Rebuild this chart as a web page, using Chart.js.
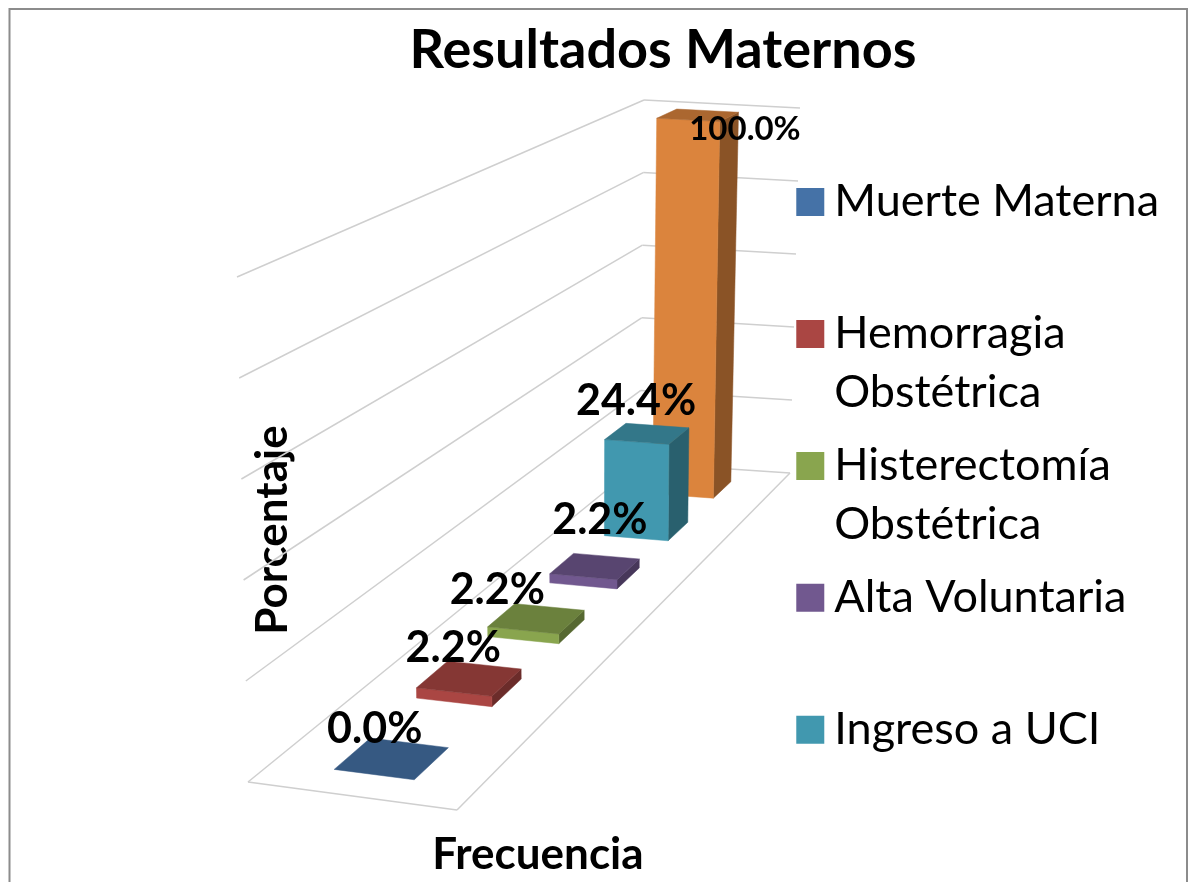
<!DOCTYPE html>
<html>
<head>
<meta charset="utf-8">
<title>Resultados Maternos</title>
<script src="https://cdn.jsdelivr.net/npm/chart.js@4"></script>
<style>
  body { margin: 0; background: #fff; }
  canvas { display: block; }
</style>
</head>
<body>
<canvas id="chart" width="1190" height="882"></canvas>
<script>
// Chart data
const categories = ['Muerte Materna', 'Hemorragia Obstétrica', 'Histerectomía Obstétrica', 'Alta Voluntaria', 'Ingreso a UCI', ''];
const percentages = [0, 2.2, 2.2, 2.2, 24.4, 100];
const barColors = ['#4572A7', '#AA4643', '#89A54E', '#71588F', '#4198AF', '#DB843D'];
const legendLines = [['Muerte Materna', ''], ['Hemorragia', 'Obstétrica'], ['Histerectomía', 'Obstétrica'], ['Alta Voluntaria', ''], ['Ingreso a UCI', '']];
const valueTicks = [0, 20, 40, 60, 80, 100];

// Where the data labels sit, relative to the middle of each bar's top face
const labelOffsets = [[-17, -29], [-16, -30], [-39, -28], [5, -46], [-11, -33], [47, 14]];
const labelSizes = [43, 43, 43, 43, 43, 33];

// The 3D box of the plot on screen: floor and ceiling corners
// (front-left, front-right, back-right, back-left)
const floorCorners = [[248, 782], [457, 810], [790, 473], [640, 463]];
const topCorners = [[237, 277], [454, 292], [800, 108], [644, 100]];
const barLeft = 0.305;
const barRight = 0.695;
const depthShift = 0.004;
const FONT = 'Lato, "Open Sans", sans-serif';

// Homography from the unit square to a quad
function makeHomography(q) {
  const [p0, p1, p2, p3] = q;
  const dx1 = p1[0] - p2[0], dx2 = p3[0] - p2[0], sx = p0[0] - p1[0] + p2[0] - p3[0];
  const dy1 = p1[1] - p2[1], dy2 = p3[1] - p2[1], sy = p0[1] - p1[1] + p2[1] - p3[1];
  const den = dx1 * dy2 - dx2 * dy1;
  const g = (sx * dy2 - dx2 * sy) / den;
  const h = (dx1 * sy - sx * dy1) / den;
  const a = p1[0] - p0[0] + g * p1[0], b = p3[0] - p0[0] + h * p3[0];
  const d = p1[1] - p0[1] + g * p1[1], e = p3[1] - p0[1] + h * p3[1];
  return (u, v) => {
    const w = g * u + h * v + 1;
    return [(a * u + b * v + p0[0]) / w, (d * u + e * v + p0[1]) / w];
  };
}

const floorAt = makeHomography(floorCorners);
const topAt = makeHomography(topCorners);

// u = across the floor, v = depth (0 front, 1 back), t = height (0 to 1)
function project(u, v, t) {
  const f = floorAt(u, v);
  const c = topAt(u, v);
  return [f[0] + (c[0] - f[0]) * t, f[1] + (c[1] - f[1]) * t];
}

// Darken a hex color
function shade(color, k) {
  const r = Math.round(parseInt(color.substring(1, 3), 16) * k);
  const g = Math.round(parseInt(color.substring(3, 5), 16) * k);
  const b = Math.round(parseInt(color.substring(5, 7), 16) * k);
  return `rgb(${r}, ${g}, ${b})`;
}

function fillQuad(ctx, points, color) {
  ctx.beginPath();
  points.forEach((p, i) => (i ? ctx.lineTo(p[0], p[1]) : ctx.moveTo(p[0], p[1])));
  ctx.closePath();
  ctx.fillStyle = color;
  ctx.fill();
  ctx.strokeStyle = color;
  ctx.lineWidth = 0.5;
  ctx.stroke();
}

function drawLine(ctx, a, b) {
  ctx.beginPath();
  ctx.moveTo(a[0], a[1]);
  ctx.lineTo(b[0], b[1]);
  ctx.stroke();
}

// Draws the walls and the bars through the chart's scales, in perspective
const perspectivePlugin = {
  id: 'perspective',
  beforeDatasetsDraw(chart) {
    const { ctx, chartArea, scales } = chart;
    const meta = chart.getDatasetMeta(0);
    const heightOf = value => (chartArea.bottom - scales.y.getPixelForValue(value)) / chartArea.height;
    const depthOf = px => (px - chartArea.left) / chartArea.width - depthShift;

    ctx.save();

    // Outer frame, open at the bottom
    ctx.strokeStyle = '#8c8c8c';
    ctx.lineWidth = 2;
    ctx.beginPath();
    ctx.moveTo(9.5, 882);
    ctx.lineTo(9.5, 9);
    ctx.lineTo(1187, 9);
    ctx.lineTo(1187, 882);
    ctx.stroke();

    // Gridlines on the left and back walls
    ctx.strokeStyle = '#cfcfcf';
    ctx.lineWidth = 1.5;
    valueTicks.forEach(tick => {
      const t = heightOf(tick);
      drawLine(ctx, project(0, 0, t), project(0, 1, t));
      drawLine(ctx, project(0, 1, t), project(1, 1, t));
    });
    drawLine(ctx, project(0, 0, 0), project(1, 0, 0));
    drawLine(ctx, project(1, 0, 0), project(1, 1, 0));

    // Bars, back to front
    for (let i = meta.data.length - 1; i >= 0; i--) {
      const bar = meta.data[i];
      const v0 = depthOf(bar.x - bar.width / 2);
      const v1 = depthOf(bar.x + bar.width / 2);
      const t = (bar.base - bar.y) / chartArea.height;
      const color = barColors[i];
      if (t > 0) {
        fillQuad(ctx, [project(barRight, v0, 0), project(barRight, v1, 0), project(barRight, v1, t), project(barRight, v0, t)], shade(color, 0.63));
        fillQuad(ctx, [project(barLeft, v0, 0), project(barRight, v0, 0), project(barRight, v0, t), project(barLeft, v0, t)], color);
      }
      fillQuad(ctx, [project(barLeft, v0, t), project(barRight, v0, t), project(barRight, v1, t), project(barLeft, v1, t)], shade(color, 0.78));
    }

    // Data labels
    ctx.fillStyle = '#000';
    ctx.textAlign = 'center';
    ctx.textBaseline = 'middle';
    meta.data.forEach((bar, i) => {
      const t = (bar.base - bar.y) / chartArea.height;
      const p = project((barLeft + barRight) / 2, depthOf(bar.x), t);
      ctx.font = `bold ${labelSizes[i]}px ${FONT}`;
      ctx.fillText(percentages[i].toFixed(1) + '%', p[0] + labelOffsets[i][0], p[1] + labelOffsets[i][1]);
    });

    ctx.restore();
    return false;
  }
};

new Chart(document.getElementById('chart'), {
  type: 'bar',
  data: {
    labels: categories,
    datasets: [{
      label: 'Resultados Maternos',
      data: percentages,
      backgroundColor: barColors,
      barPercentage: 0.42,
      categoryPercentage: 1
    }]
  },
  options: {
    responsive: false,
    animation: false,
    layout: { padding: { left: 157, right: 21, top: 0, bottom: 0 } },
    plugins: {
      tooltip: { enabled: false },
      title: {
        display: true,
        text: 'Resultados Maternos',
        color: '#000',
        font: { family: FONT, size: 54, weight: 'bold', lineHeight: 1.2 },
        padding: { top: 18, bottom: 157 }
      },
      legend: {
        position: 'right',
        align: 'start',
        maxWidth: 400,
        onClick: null,
        title: { display: true, text: ' ', padding: 75.5, font: { size: 12 } },
        labels: {
          font: { family: FONT, size: 45, lineHeight: 1.311 },
          padding: 14,
          boxWidth: 3,
          boxHeight: 28,
          usePointStyle: true,
          pointStyle: 'rect',
          generateLabels: () => legendLines.map((text, i) => ({
            text: text,
            fontColor: '#000',
            fillStyle: barColors[i],
            strokeStyle: barColors[i],
            lineWidth: 0,
            pointStyle: 'rect',
            hidden: false,
            datasetIndex: 0,
            index: i
          }))
        }
      }
    },
    scales: {
      x: {
        ticks: { display: false },
        grid: { display: false },
        border: { display: false },
        title: {
          display: true,
          text: 'Frecuencia',
          color: '#000',
          font: { family: FONT, size: 44, weight: 'bold', lineHeight: 1.2 },
          padding: { top: 0, bottom: 1 }
        }
      },
      y: {
        min: 0,
        max: 100,
        ticks: { display: false },
        grid: { display: false },
        border: { display: false },
        afterFit(scale) { scale.width = 124; },
        title: {
          display: true,
          text: 'Porcentaje',
          color: '#000',
          font: { family: FONT, size: 44, weight: 'bold', lineHeight: 1.2 },
          padding: { top: 89, bottom: 0 }
        }
      }
    }
  },
  plugins: [perspectivePlugin]
});
</script>
</body>
</html>
